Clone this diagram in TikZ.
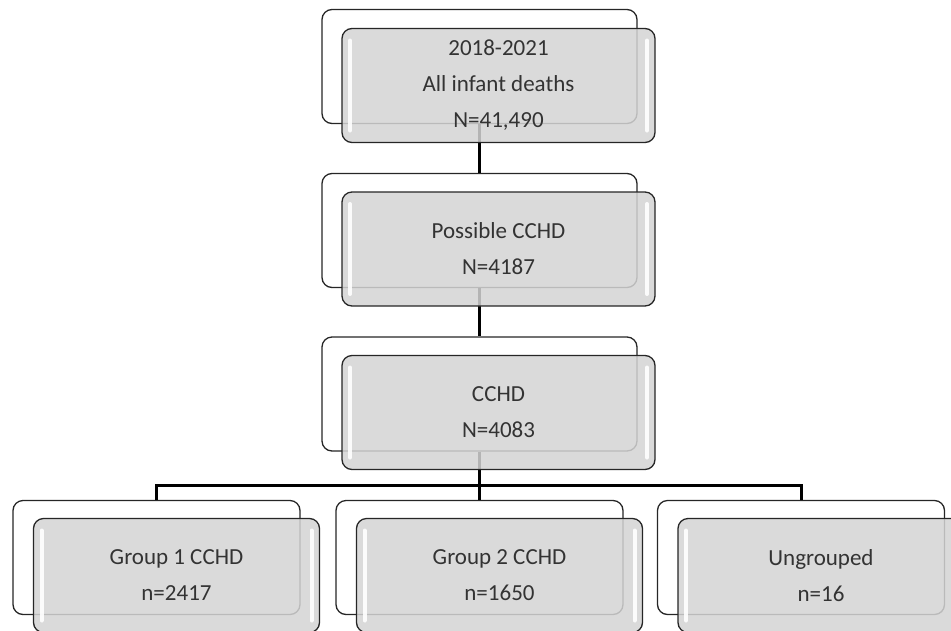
\documentclass[tikz,border=0pt]{standalone}
\usepackage{fontspec}
\setmainfont{Carlito}
\usetikzlibrary{positioning,calc}
\tikzset{
  backbox/.style={draw=black!85, line width=1.3pt, rounded corners=10pt, fill=white, minimum width=315pt, minimum height=114pt},
  frontbox/.style={draw=black!85, line width=1.3pt, rounded corners=10pt, fill=black!17, fill opacity=0.85, text opacity=1,
    minimum width=313pt, minimum height=114pt, align=center, text=black!80, font=\fontsize{23}{36}\selectfont,
    path picture={
      \draw[white, line width=4pt, line cap=round, opacity=0.9]
        ([shift={(8pt,-12pt)}]path picture bounding box.north west) -- ([shift={(8pt,12pt)}]path picture bounding box.south west);
      \draw[white, line width=4pt, line cap=round, opacity=0.9]
        ([shift={(-8pt,-12pt)}]path picture bounding box.north east) -- ([shift={(-8pt,12pt)}]path picture bounding box.south east);
    }},
  smallback/.style={backbox, minimum width=287pt},
  smallfront/.style={frontbox, minimum width=286pt},
  link/.style={line width=3pt, black},
}

\begin{document}
\begin{tikzpicture}[x=1pt, y=1pt]
  \useasboundingbox (0,0) rectangle (951,-630);

  % back boxes
  \node[backbox] (allB) at (479.5,-66.5) {};
  \node[backbox] (possB) at (479.5,-230.5) {};
  \node[backbox] (cchdB) at (479.5,-394) {};
  \node[smallback] (g2B) at (479.5,-557.5) {};
  \node[smallback] (g1B) at (156.5,-557.5) {};
  \node[smallback] (ungB) at (801,-557.5) {};

  % connectors
  \draw[link] (allB) -- (possB);
  \draw[link] (possB) -- (cchdB);
  \coordinate (split) at ([yshift=-34pt]cchdB.south);
  \draw[link] (cchdB.south) -- (split) -- (g2B.north);
  \draw[link] (split) -| (g1B.north);
  \draw[link] (split) -| (ungB.north);

  % front boxes
  \node[frontbox] (all) at ([shift={(19pt,-19pt)}]allB.center) {2018-2021\\All infant deaths\\N=41,490};
  \node[frontbox] (poss) at ([shift={(19pt,-18.5pt)}]possB.center) {Possible CCHD\\N=4187};
  \node[frontbox] (cchd) at ([shift={(19pt,-18.5pt)}]cchdB.center) {CCHD\\N=4083};
  \node[smallfront] (g1) at ([shift={(20pt,-18pt)}]g1B.center) {Group 1 CCHD\\n=2417};
  \node[smallfront] (g2) at ([shift={(20pt,-18pt)}]g2B.center) {Group 2 CCHD\\n=1650};
  \node[smallfront] (ung) at ([shift={(20pt,-18pt)}]ungB.center) {Ungrouped\\n=16};
\end{tikzpicture}
\end{document}
